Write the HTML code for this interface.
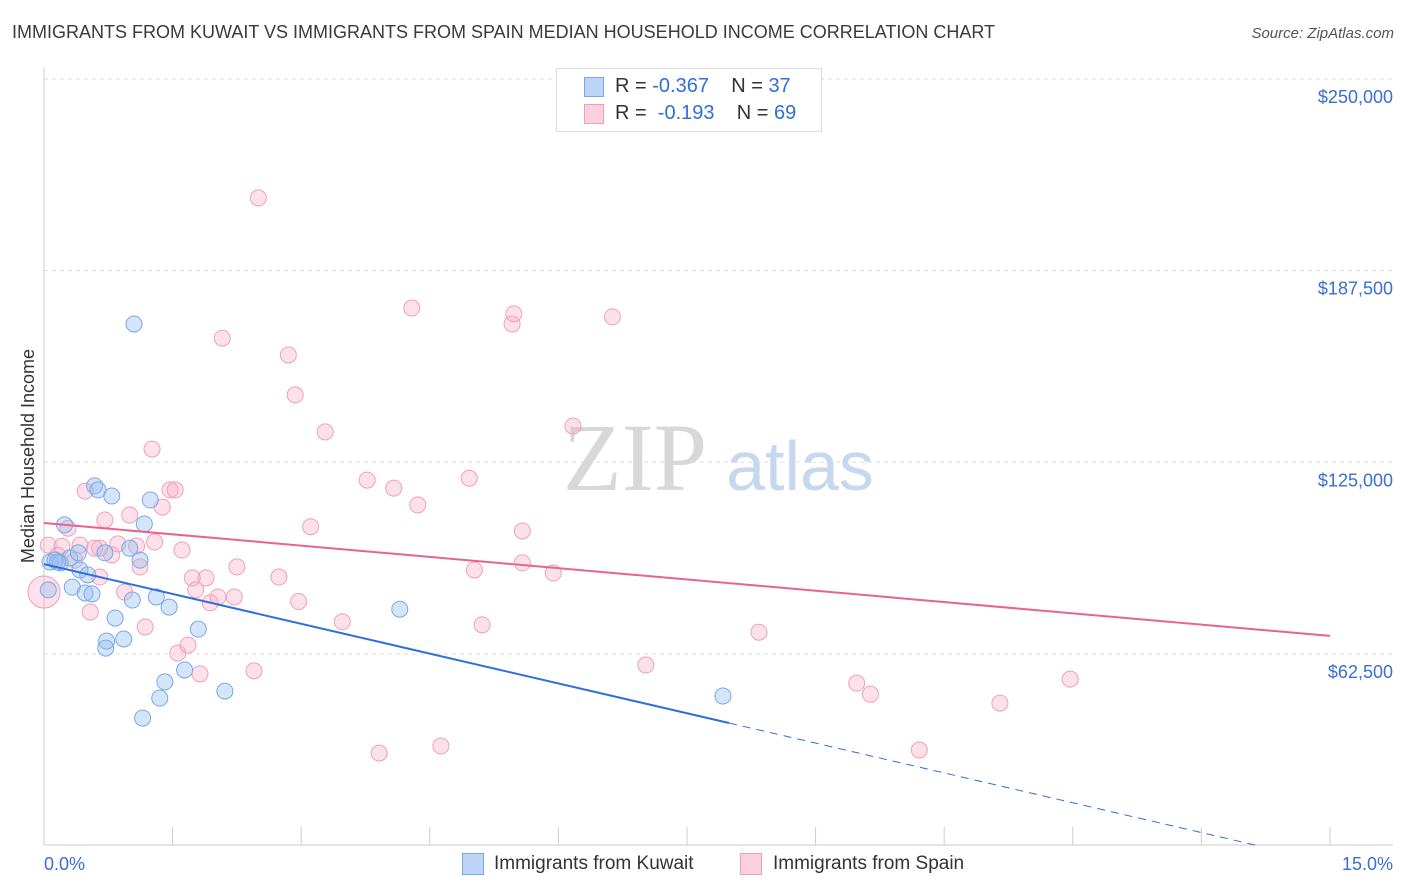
<!DOCTYPE html>
<html><head><meta charset="utf-8"><style>
body{margin:0;background:#fff;font-family:"Liberation Sans",sans-serif;}
#wrap{position:relative;width:1406px;height:892px;overflow:hidden}
.t{position:absolute;white-space:nowrap}
</style></head><body>
<div id="wrap">
<div class="t" style="left:12px;top:22px;font-size:18px;color:#3a3a3a">IMMIGRANTS FROM KUWAIT VS IMMIGRANTS FROM SPAIN MEDIAN HOUSEHOLD INCOME CORRELATION CHART</div>
<div class="t" style="right:12px;top:25px;font-size:15px;color:#555;font-style:italic">Source: ZipAtlas.com</div>
<svg id="svg" width="1406" height="892" style="position:absolute;left:0;top:0"></svg>
</div>
<script>
const yTicks=[62500,125000,187500,250000];
const yTickLabels=["$62,500","$125,000","$187,500","$250,000"];
const xTickLabels=["0.0%","15.0%"];
const kuwaitX=[.07,.13,.19,.24,.30,.33,.40,.42,.48,.56,.59,.63,.79,.83,.73,.72,.93,1.00,1.03,1.05,1.12,1.17,1.24,1.31,1.46,1.41,1.35,1.15,1.64,1.80,2.11,4.15,7.92,.05,.16,.71,.51];
const kuwaitY=[92.5,93.1,92.2,104.6,93.8,84.3,95.5,89.9,82.4,82.1,117.3,116.0,114.0,74.2,66.7,64.4,67.4,97.0,80.1,170.1,93.1,104.9,112.7,81.1,77.8,53.4,48.1,41.6,57.3,70.6,50.4,77.1,48.8,83.4,92.5,95.5,88.3];
const spainX=[0,.05,.16,.21,.28,.36,.42,.48,.54,.59,.65,.71,.79,.86,.94,1.00,1.08,1.12,1.18,1.26,1.29,1.38,1.47,1.53,1.56,1.61,1.68,1.73,1.77,1.82,1.89,1.94,2.03,2.08,2.22,2.25,2.45,2.50,2.74,2.85,2.93,2.97,3.11,3.28,3.48,3.77,3.91,4.08,4.29,4.36,4.63,4.96,5.02,5.11,5.46,5.48,5.58,5.58,5.94,6.17,6.63,7.02,8.34,9.48,9.64,10.21,11.15,11.97,.65];
const spainY=[82.7,98.0,94.7,97.6,103.5,93.1,98.0,115.6,76.2,97.0,87.6,106.2,94.8,98.4,82.7,107.8,97.7,90.9,71.3,129.3,99.0,110.4,116.0,116.0,62.8,96.4,65.4,87.3,83.4,56.0,87.3,79.2,81.1,165.5,81.1,90.9,57.0,211.2,87.6,160.0,147.0,79.6,104.0,134.9,73.0,119.2,30.2,116.6,175.3,111.1,32.5,119.8,89.9,72.0,170.1,173.4,102.6,92.2,88.9,136.8,172.4,58.9,69.6,53.0,49.4,31.2,46.5,54.3,97.0];
const kuwaitTrend=[91.8,40.0,7.99];
const spainTrend=[105.2,68.4];
const NS="http://www.w3.org/2000/svg";
const svg=document.getElementById('svg');
const X=p=>44+p*85.73;
const Y=k=>845.7-k*1000/62500*191.7;
function el(tag,a){const e=document.createElementNS(NS,tag);for(const k in a)e.setAttribute(k,a[k]);svg.appendChild(e);return e;}
yTicks.forEach((v,i)=>{
 const g=el('line',{x1:44,x2:1393,y1:Y(v/1000),y2:Y(v/1000),stroke:'#ddd','stroke-dasharray':'4,4'});
 
 
 const t=el('text',{x:1393,y:Y(v/1000)+24,'text-anchor':'end','font-size':18,fill:'#3a6fd0','font-family':'Liberation Sans'});
 t.textContent=yTickLabels[i];
 
 
});
el('line',{x1:44,x2:1393,y1:79,y2:79,stroke:'#ddd','stroke-dasharray':'4,4'});
const ax=el('line',{x1:44,x2:1393,y1:845,y2:845,stroke:'#ccc'});


el('line',{x1:44,x2:44,y1:68,y2:845,stroke:'#ccc'});
for(let i=0;i<=10;i++){const tk=el('line',{x1:X(i*1.5),x2:X(i*1.5),y1:827,y2:845,stroke:'#ccc'});
 
 }
[[44,'start',0],[1393,'end',1]].forEach(([x,a,i])=>{const t=el('text',{x:x,y:870,'text-anchor':a,'font-size':18,fill:'#3a6fd0','font-family':'Liberation Sans'});t.textContent=xTickLabels[i];
 
 });
const yt=el('text',{x:34,y:456,transform:'rotate(-90 34 456)','text-anchor':'middle','font-size':18,fill:'#333','font-family':'Liberation Sans'});
yt.textContent='Median Household Income';


const w1=el('text',{x:635,y:490,'text-anchor':'middle','font-size':96,fill:'#d8d8d8','font-family':'Liberation Serif'});w1.textContent='ZIP';


const w2=el('text',{x:800,y:490,'text-anchor':'middle','font-size':70,fill:'#c5d8ef','font-family':'Liberation Sans'});w2.textContent='atlas';


spainX.forEach((x,i)=>{const c=el('circle',{cx:X(x),cy:Y(spainY[i]),r:i==0?16:8,fill:'rgba(246,170,195,0.35)',stroke:'#eea0bb','stroke-width':1});
 
 });
kuwaitX.forEach((x,i)=>{const c=el('circle',{cx:X(x),cy:Y(kuwaitY[i]),r:8,fill:'rgba(150,190,240,0.4)',stroke:'#7aa8e6','stroke-width':1});
 
 });
const sl=(kuwaitTrend[1]-kuwaitTrend[0])/kuwaitTrend[2];
const b1=el('line',{x1:X(0),y1:Y(kuwaitTrend[0]),x2:X(kuwaitTrend[2]),y2:Y(kuwaitTrend[1]),stroke:'#2f6fdb','stroke-width':2});


let xe=15,ye=kuwaitTrend[0]+sl*15;if(ye<0){xe=-kuwaitTrend[0]/sl;ye=0;}
const b2=el('line',{x1:X(kuwaitTrend[2]),y1:Y(kuwaitTrend[1]),x2:X(xe),y2:Y(ye),stroke:'#2f6fdb','stroke-width':1,'stroke-dasharray':'8,6'});


const p1=el('line',{x1:X(0),y1:Y(spainTrend[0]),x2:X(15),y2:Y(spainTrend[1]),stroke:'#e8648f','stroke-width':2});


</script>
<div class="t" style="left:556px;top:68px;width:264px;height:62px;border:1px solid #ddd;background:#fff;font-size:20px">
 <div class="t" style="left:27px;top:8px;width:18px;height:18px;background:#bcd4f6;border:1px solid #7aa8e6"></div>
 <div class="t" style="left:58px;top:6px;color:#333">R = <span style="color:#2f6fdb">-0.367</span>&nbsp;&nbsp;&nbsp; N = <span style="color:#2f6fdb">37</span></div>
 <div class="t" style="left:27px;top:35px;width:18px;height:18px;background:#fbcfdc;border:1px solid #eea0bb"></div>
 <div class="t" style="left:58px;top:33px;color:#333">R = &nbsp;<span style="color:#2f6fdb">-0.193</span>&nbsp;&nbsp;&nbsp; N = <span style="color:#2f6fdb">69</span></div>
</div>
<div class="t" style="left:462px;top:853px;width:20px;height:20px;background:#bcd4f6;border:1px solid #7aa8e6"></div>
<div class="t" style="left:494px;top:853px;font-size:19px;color:#333">Immigrants from Kuwait</div>
<div class="t" style="left:740px;top:853px;width:20px;height:20px;background:#fbcfdc;border:1px solid #eea0bb"></div>
<div class="t" style="left:773px;top:853px;font-size:19px;color:#333">Immigrants from Spain</div>
</body></html>
